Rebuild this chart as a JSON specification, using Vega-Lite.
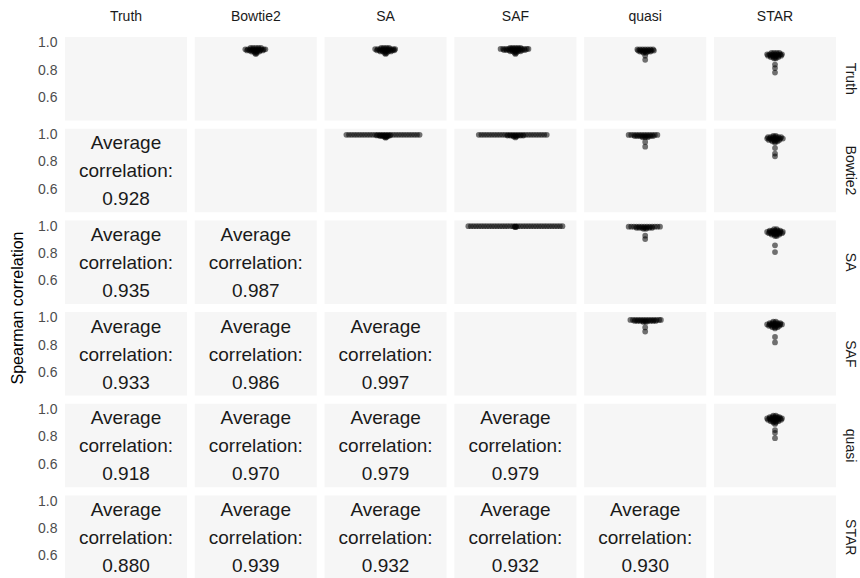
{
"$schema": "https://vega.github.io/schema/vega-lite/v6.json",
"padding": {"left": 9, "top": 10, "right": 4, "bottom": 0},
"data": {"values": [
{"r":"Truth","c":"Bowtie2","x":-6,"y":0.962},{"r":"Truth","c":"Bowtie2","x":-3,"y":0.962},{"r":"Truth","c":"Bowtie2","x":0,"y":0.962},{"r":"Truth","c":"Bowtie2","x":3,"y":0.962},{"r":"Truth","c":"Bowtie2","x":6,"y":0.962},
{"r":"Truth","c":"Bowtie2","x":-12,"y":0.952},{"r":"Truth","c":"Bowtie2","x":-9,"y":0.952},{"r":"Truth","c":"Bowtie2","x":-6,"y":0.952},{"r":"Truth","c":"Bowtie2","x":-3,"y":0.952},{"r":"Truth","c":"Bowtie2","x":0,"y":0.952},{"r":"Truth","c":"Bowtie2","x":3,"y":0.952},{"r":"Truth","c":"Bowtie2","x":6,"y":0.952},{"r":"Truth","c":"Bowtie2","x":9,"y":0.952},{"r":"Truth","c":"Bowtie2","x":11,"y":0.952},
{"r":"Truth","c":"Bowtie2","x":-10,"y":0.944},{"r":"Truth","c":"Bowtie2","x":-7,"y":0.944},{"r":"Truth","c":"Bowtie2","x":-4,"y":0.944},{"r":"Truth","c":"Bowtie2","x":-1,"y":0.944},{"r":"Truth","c":"Bowtie2","x":2,"y":0.944},{"r":"Truth","c":"Bowtie2","x":5,"y":0.944},{"r":"Truth","c":"Bowtie2","x":8,"y":0.944},
{"r":"Truth","c":"Bowtie2","x":-5,"y":0.935},{"r":"Truth","c":"Bowtie2","x":-2,"y":0.935},{"r":"Truth","c":"Bowtie2","x":1,"y":0.935},{"r":"Truth","c":"Bowtie2","x":4,"y":0.935},
{"r":"Truth","c":"Bowtie2","x":-1,"y":0.925},{"r":"Truth","c":"Bowtie2","x":1,"y":0.925},{"r":"Truth","c":"Bowtie2","x":0,"y":0.917},

{"r":"Truth","c":"SA","x":-5,"y":0.962},{"r":"Truth","c":"SA","x":-2,"y":0.962},{"r":"Truth","c":"SA","x":1,"y":0.962},{"r":"Truth","c":"SA","x":4,"y":0.962},
{"r":"Truth","c":"SA","x":-12,"y":0.954},{"r":"Truth","c":"SA","x":-9,"y":0.954},{"r":"Truth","c":"SA","x":-6,"y":0.954},{"r":"Truth","c":"SA","x":-3,"y":0.954},{"r":"Truth","c":"SA","x":0,"y":0.954},{"r":"Truth","c":"SA","x":3,"y":0.954},{"r":"Truth","c":"SA","x":6,"y":0.954},{"r":"Truth","c":"SA","x":9,"y":0.954},{"r":"Truth","c":"SA","x":11,"y":0.954},
{"r":"Truth","c":"SA","x":-10,"y":0.945},{"r":"Truth","c":"SA","x":-7,"y":0.945},{"r":"Truth","c":"SA","x":-4,"y":0.945},{"r":"Truth","c":"SA","x":-1,"y":0.945},{"r":"Truth","c":"SA","x":2,"y":0.945},{"r":"Truth","c":"SA","x":5,"y":0.945},{"r":"Truth","c":"SA","x":8,"y":0.945},{"r":"Truth","c":"SA","x":10,"y":0.945},
{"r":"Truth","c":"SA","x":-6,"y":0.936},{"r":"Truth","c":"SA","x":-3,"y":0.936},{"r":"Truth","c":"SA","x":0,"y":0.936},{"r":"Truth","c":"SA","x":3,"y":0.936},{"r":"Truth","c":"SA","x":6,"y":0.936},
{"r":"Truth","c":"SA","x":-1,"y":0.925},{"r":"Truth","c":"SA","x":1,"y":0.925},{"r":"Truth","c":"SA","x":0,"y":0.918},

{"r":"Truth","c":"SAF","x":-6,"y":0.963},{"r":"Truth","c":"SAF","x":-3,"y":0.963},{"r":"Truth","c":"SAF","x":0,"y":0.963},{"r":"Truth","c":"SAF","x":3,"y":0.963},{"r":"Truth","c":"SAF","x":6,"y":0.963},
{"r":"Truth","c":"SAF","x":-17,"y":0.955},{"r":"Truth","c":"SAF","x":-14,"y":0.955},{"r":"Truth","c":"SAF","x":-11,"y":0.955},{"r":"Truth","c":"SAF","x":-8,"y":0.955},{"r":"Truth","c":"SAF","x":-5,"y":0.955},{"r":"Truth","c":"SAF","x":-2,"y":0.955},{"r":"Truth","c":"SAF","x":1,"y":0.955},{"r":"Truth","c":"SAF","x":4,"y":0.955},{"r":"Truth","c":"SAF","x":7,"y":0.955},{"r":"Truth","c":"SAF","x":10,"y":0.955},{"r":"Truth","c":"SAF","x":13,"y":0.955},{"r":"Truth","c":"SAF","x":15,"y":0.955},
{"r":"Truth","c":"SAF","x":-13,"y":0.946},{"r":"Truth","c":"SAF","x":-10,"y":0.946},{"r":"Truth","c":"SAF","x":-7,"y":0.946},{"r":"Truth","c":"SAF","x":-4,"y":0.946},{"r":"Truth","c":"SAF","x":-1,"y":0.946},{"r":"Truth","c":"SAF","x":2,"y":0.946},{"r":"Truth","c":"SAF","x":5,"y":0.946},{"r":"Truth","c":"SAF","x":8,"y":0.946},{"r":"Truth","c":"SAF","x":11,"y":0.946},
{"r":"Truth","c":"SAF","x":-6,"y":0.937},{"r":"Truth","c":"SAF","x":-3,"y":0.937},{"r":"Truth","c":"SAF","x":0,"y":0.937},{"r":"Truth","c":"SAF","x":3,"y":0.937},{"r":"Truth","c":"SAF","x":6,"y":0.937},
{"r":"Truth","c":"SAF","x":-1,"y":0.926},{"r":"Truth","c":"SAF","x":1,"y":0.926},{"r":"Truth","c":"SAF","x":0,"y":0.918},

{"r":"Truth","c":"quasi","x":-9,"y":0.951},{"r":"Truth","c":"quasi","x":-6,"y":0.951},{"r":"Truth","c":"quasi","x":-3,"y":0.951},{"r":"Truth","c":"quasi","x":0,"y":0.951},{"r":"Truth","c":"quasi","x":3,"y":0.951},{"r":"Truth","c":"quasi","x":6,"y":0.951},{"r":"Truth","c":"quasi","x":9,"y":0.951},
{"r":"Truth","c":"quasi","x":-8,"y":0.943},{"r":"Truth","c":"quasi","x":-5,"y":0.943},{"r":"Truth","c":"quasi","x":-2,"y":0.943},{"r":"Truth","c":"quasi","x":1,"y":0.943},{"r":"Truth","c":"quasi","x":4,"y":0.943},{"r":"Truth","c":"quasi","x":7,"y":0.943},{"r":"Truth","c":"quasi","x":10,"y":0.943},
{"r":"Truth","c":"quasi","x":-6,"y":0.935},{"r":"Truth","c":"quasi","x":-3,"y":0.935},{"r":"Truth","c":"quasi","x":0,"y":0.935},{"r":"Truth","c":"quasi","x":3,"y":0.935},{"r":"Truth","c":"quasi","x":6,"y":0.935},
{"r":"Truth","c":"quasi","x":-2,"y":0.927},{"r":"Truth","c":"quasi","x":1,"y":0.927},{"r":"Truth","c":"quasi","x":0,"y":0.905},{"r":"Truth","c":"quasi","x":0,"y":0.875},

{"r":"Truth","c":"STAR","x":-4,"y":0.925},{"r":"Truth","c":"STAR","x":-1,"y":0.925},{"r":"Truth","c":"STAR","x":2,"y":0.925},{"r":"Truth","c":"STAR","x":5,"y":0.925},
{"r":"Truth","c":"STAR","x":-9,"y":0.915},{"r":"Truth","c":"STAR","x":-6,"y":0.915},{"r":"Truth","c":"STAR","x":-3,"y":0.915},{"r":"Truth","c":"STAR","x":0,"y":0.915},{"r":"Truth","c":"STAR","x":3,"y":0.915},{"r":"Truth","c":"STAR","x":6,"y":0.915},{"r":"Truth","c":"STAR","x":8,"y":0.915},
{"r":"Truth","c":"STAR","x":-8,"y":0.905},{"r":"Truth","c":"STAR","x":-5,"y":0.905},{"r":"Truth","c":"STAR","x":-2,"y":0.905},{"r":"Truth","c":"STAR","x":1,"y":0.905},{"r":"Truth","c":"STAR","x":4,"y":0.905},{"r":"Truth","c":"STAR","x":7,"y":0.905},
{"r":"Truth","c":"STAR","x":-5,"y":0.895},{"r":"Truth","c":"STAR","x":-2,"y":0.895},{"r":"Truth","c":"STAR","x":1,"y":0.895},{"r":"Truth","c":"STAR","x":4,"y":0.895},
{"r":"Truth","c":"STAR","x":-1,"y":0.885},{"r":"Truth","c":"STAR","x":1,"y":0.885},{"r":"Truth","c":"STAR","x":0,"y":0.84},{"r":"Truth","c":"STAR","x":0,"y":0.815},{"r":"Truth","c":"STAR","x":0,"y":0.782},

{"r":"Bowtie2","c":"SA","x":-45,"y":0.997},{"r":"Bowtie2","c":"SA","x":-42,"y":0.997},{"r":"Bowtie2","c":"SA","x":-39,"y":0.997},{"r":"Bowtie2","c":"SA","x":-36,"y":0.997},{"r":"Bowtie2","c":"SA","x":-33,"y":0.997},{"r":"Bowtie2","c":"SA","x":-30,"y":0.997},{"r":"Bowtie2","c":"SA","x":-27,"y":0.997},{"r":"Bowtie2","c":"SA","x":-24,"y":0.997},{"r":"Bowtie2","c":"SA","x":-21,"y":0.997},{"r":"Bowtie2","c":"SA","x":-18,"y":0.997},{"r":"Bowtie2","c":"SA","x":-15,"y":0.997},{"r":"Bowtie2","c":"SA","x":-12,"y":0.997},{"r":"Bowtie2","c":"SA","x":-9,"y":0.997},{"r":"Bowtie2","c":"SA","x":-6,"y":0.997},{"r":"Bowtie2","c":"SA","x":-3,"y":0.997},{"r":"Bowtie2","c":"SA","x":0,"y":0.997},{"r":"Bowtie2","c":"SA","x":3,"y":0.997},{"r":"Bowtie2","c":"SA","x":6,"y":0.997},{"r":"Bowtie2","c":"SA","x":9,"y":0.997},{"r":"Bowtie2","c":"SA","x":12,"y":0.997},{"r":"Bowtie2","c":"SA","x":15,"y":0.997},{"r":"Bowtie2","c":"SA","x":18,"y":0.997},{"r":"Bowtie2","c":"SA","x":21,"y":0.997},{"r":"Bowtie2","c":"SA","x":24,"y":0.997},{"r":"Bowtie2","c":"SA","x":27,"y":0.997},{"r":"Bowtie2","c":"SA","x":30,"y":0.997},{"r":"Bowtie2","c":"SA","x":33,"y":0.997},{"r":"Bowtie2","c":"SA","x":36,"y":0.997},{"r":"Bowtie2","c":"SA","x":39,"y":0.997},
{"r":"Bowtie2","c":"SA","x":-10,"y":0.993},{"r":"Bowtie2","c":"SA","x":-7,"y":0.993},{"r":"Bowtie2","c":"SA","x":-4,"y":0.993},{"r":"Bowtie2","c":"SA","x":-1,"y":0.993},{"r":"Bowtie2","c":"SA","x":2,"y":0.993},{"r":"Bowtie2","c":"SA","x":5,"y":0.993},
{"r":"Bowtie2","c":"SA","x":-6,"y":0.988},{"r":"Bowtie2","c":"SA","x":-3,"y":0.988},{"r":"Bowtie2","c":"SA","x":0,"y":0.988},{"r":"Bowtie2","c":"SA","x":3,"y":0.988},
{"r":"Bowtie2","c":"SA","x":-1,"y":0.982},{"r":"Bowtie2","c":"SA","x":1,"y":0.982},{"r":"Bowtie2","c":"SA","x":0,"y":0.976},

{"r":"Bowtie2","c":"SAF","x":-42,"y":0.997},{"r":"Bowtie2","c":"SAF","x":-39,"y":0.997},{"r":"Bowtie2","c":"SAF","x":-36,"y":0.997},{"r":"Bowtie2","c":"SAF","x":-33,"y":0.997},{"r":"Bowtie2","c":"SAF","x":-30,"y":0.997},{"r":"Bowtie2","c":"SAF","x":-27,"y":0.997},{"r":"Bowtie2","c":"SAF","x":-24,"y":0.997},{"r":"Bowtie2","c":"SAF","x":-21,"y":0.997},{"r":"Bowtie2","c":"SAF","x":-18,"y":0.997},{"r":"Bowtie2","c":"SAF","x":-15,"y":0.997},{"r":"Bowtie2","c":"SAF","x":-12,"y":0.997},{"r":"Bowtie2","c":"SAF","x":-9,"y":0.997},{"r":"Bowtie2","c":"SAF","x":-6,"y":0.997},{"r":"Bowtie2","c":"SAF","x":-3,"y":0.997},{"r":"Bowtie2","c":"SAF","x":0,"y":0.997},{"r":"Bowtie2","c":"SAF","x":3,"y":0.997},{"r":"Bowtie2","c":"SAF","x":6,"y":0.997},{"r":"Bowtie2","c":"SAF","x":9,"y":0.997},{"r":"Bowtie2","c":"SAF","x":12,"y":0.997},{"r":"Bowtie2","c":"SAF","x":15,"y":0.997},{"r":"Bowtie2","c":"SAF","x":18,"y":0.997},{"r":"Bowtie2","c":"SAF","x":21,"y":0.997},{"r":"Bowtie2","c":"SAF","x":24,"y":0.997},{"r":"Bowtie2","c":"SAF","x":27,"y":0.997},{"r":"Bowtie2","c":"SAF","x":30,"y":0.997},{"r":"Bowtie2","c":"SAF","x":33,"y":0.997},{"r":"Bowtie2","c":"SAF","x":36,"y":0.997},
{"r":"Bowtie2","c":"SAF","x":-9,"y":0.992},{"r":"Bowtie2","c":"SAF","x":-6,"y":0.992},{"r":"Bowtie2","c":"SAF","x":-3,"y":0.992},{"r":"Bowtie2","c":"SAF","x":0,"y":0.992},{"r":"Bowtie2","c":"SAF","x":3,"y":0.992},{"r":"Bowtie2","c":"SAF","x":6,"y":0.992},{"r":"Bowtie2","c":"SAF","x":9,"y":0.992},
{"r":"Bowtie2","c":"SAF","x":-2,"y":0.985},{"r":"Bowtie2","c":"SAF","x":1,"y":0.985},{"r":"Bowtie2","c":"SAF","x":0,"y":0.978},

{"r":"Bowtie2","c":"quasi","x":-19,"y":0.996},{"r":"Bowtie2","c":"quasi","x":-16,"y":0.996},{"r":"Bowtie2","c":"quasi","x":-13,"y":0.996},{"r":"Bowtie2","c":"quasi","x":-10,"y":0.996},{"r":"Bowtie2","c":"quasi","x":-7,"y":0.996},{"r":"Bowtie2","c":"quasi","x":-4,"y":0.996},{"r":"Bowtie2","c":"quasi","x":-1,"y":0.996},{"r":"Bowtie2","c":"quasi","x":2,"y":0.996},{"r":"Bowtie2","c":"quasi","x":5,"y":0.996},{"r":"Bowtie2","c":"quasi","x":8,"y":0.996},{"r":"Bowtie2","c":"quasi","x":11,"y":0.996},{"r":"Bowtie2","c":"quasi","x":14,"y":0.996},
{"r":"Bowtie2","c":"quasi","x":-12,"y":0.988},{"r":"Bowtie2","c":"quasi","x":-9,"y":0.988},{"r":"Bowtie2","c":"quasi","x":-6,"y":0.988},{"r":"Bowtie2","c":"quasi","x":-3,"y":0.988},{"r":"Bowtie2","c":"quasi","x":0,"y":0.988},{"r":"Bowtie2","c":"quasi","x":3,"y":0.988},{"r":"Bowtie2","c":"quasi","x":6,"y":0.988},{"r":"Bowtie2","c":"quasi","x":9,"y":0.988},
{"r":"Bowtie2","c":"quasi","x":-3,"y":0.98},{"r":"Bowtie2","c":"quasi","x":0,"y":0.98},{"r":"Bowtie2","c":"quasi","x":3,"y":0.98},{"r":"Bowtie2","c":"quasi","x":0,"y":0.945},{"r":"Bowtie2","c":"quasi","x":0,"y":0.91},

{"r":"Bowtie2","c":"STAR","x":-2,"y":0.99},{"r":"Bowtie2","c":"STAR","x":1,"y":0.99},
{"r":"Bowtie2","c":"STAR","x":-8,"y":0.98},{"r":"Bowtie2","c":"STAR","x":-5,"y":0.98},{"r":"Bowtie2","c":"STAR","x":-2,"y":0.98},{"r":"Bowtie2","c":"STAR","x":1,"y":0.98},{"r":"Bowtie2","c":"STAR","x":4,"y":0.98},{"r":"Bowtie2","c":"STAR","x":7,"y":0.98},
{"r":"Bowtie2","c":"STAR","x":-9,"y":0.97},{"r":"Bowtie2","c":"STAR","x":-6,"y":0.97},{"r":"Bowtie2","c":"STAR","x":-3,"y":0.97},{"r":"Bowtie2","c":"STAR","x":0,"y":0.97},{"r":"Bowtie2","c":"STAR","x":3,"y":0.97},{"r":"Bowtie2","c":"STAR","x":6,"y":0.97},{"r":"Bowtie2","c":"STAR","x":9,"y":0.97},
{"r":"Bowtie2","c":"STAR","x":-7,"y":0.96},{"r":"Bowtie2","c":"STAR","x":-4,"y":0.96},{"r":"Bowtie2","c":"STAR","x":-1,"y":0.96},{"r":"Bowtie2","c":"STAR","x":2,"y":0.96},{"r":"Bowtie2","c":"STAR","x":5,"y":0.96},
{"r":"Bowtie2","c":"STAR","x":-3,"y":0.95},{"r":"Bowtie2","c":"STAR","x":0,"y":0.95},{"r":"Bowtie2","c":"STAR","x":3,"y":0.95},
{"r":"Bowtie2","c":"STAR","x":0,"y":0.94},{"r":"Bowtie2","c":"STAR","x":0,"y":0.9},{"r":"Bowtie2","c":"STAR","x":0,"y":0.86},{"r":"Bowtie2","c":"STAR","x":0,"y":0.84},

{"r":"SA","c":"SAF","x":-54,"y":0.9995},{"r":"SA","c":"SAF","x":-51,"y":0.9995},{"r":"SA","c":"SAF","x":-48,"y":0.9995},{"r":"SA","c":"SAF","x":-45,"y":0.9995},{"r":"SA","c":"SAF","x":-42,"y":0.9995},{"r":"SA","c":"SAF","x":-39,"y":0.9995},{"r":"SA","c":"SAF","x":-36,"y":0.9995},{"r":"SA","c":"SAF","x":-33,"y":0.9995},{"r":"SA","c":"SAF","x":-30,"y":0.9995},{"r":"SA","c":"SAF","x":-27,"y":0.9995},{"r":"SA","c":"SAF","x":-24,"y":0.9995},{"r":"SA","c":"SAF","x":-21,"y":0.9995},{"r":"SA","c":"SAF","x":-18,"y":0.9995},{"r":"SA","c":"SAF","x":-15,"y":0.9995},{"r":"SA","c":"SAF","x":-12,"y":0.9995},{"r":"SA","c":"SAF","x":-9,"y":0.9995},{"r":"SA","c":"SAF","x":-6,"y":0.9995},{"r":"SA","c":"SAF","x":-3,"y":0.9995},{"r":"SA","c":"SAF","x":0,"y":0.9995},{"r":"SA","c":"SAF","x":3,"y":0.9995},{"r":"SA","c":"SAF","x":6,"y":0.9995},{"r":"SA","c":"SAF","x":9,"y":0.9995},{"r":"SA","c":"SAF","x":12,"y":0.9995},{"r":"SA","c":"SAF","x":15,"y":0.9995},{"r":"SA","c":"SAF","x":18,"y":0.9995},{"r":"SA","c":"SAF","x":21,"y":0.9995},{"r":"SA","c":"SAF","x":24,"y":0.9995},{"r":"SA","c":"SAF","x":27,"y":0.9995},{"r":"SA","c":"SAF","x":30,"y":0.9995},{"r":"SA","c":"SAF","x":33,"y":0.9995},{"r":"SA","c":"SAF","x":36,"y":0.9995},{"r":"SA","c":"SAF","x":39,"y":0.9995},{"r":"SA","c":"SAF","x":42,"y":0.9995},{"r":"SA","c":"SAF","x":45,"y":0.9995},{"r":"SA","c":"SAF","x":48,"y":0.9995},{"r":"SA","c":"SAF","x":51,"y":0.9995},{"r":"SA","c":"SAF","x":54,"y":0.9995},
{"r":"SA","c":"SAF","x":-1,"y":0.996},{"r":"SA","c":"SAF","x":1,"y":0.996},{"r":"SA","c":"SAF","x":0,"y":0.992},

{"r":"SA","c":"quasi","x":-19,"y":0.996},{"r":"SA","c":"quasi","x":-16,"y":0.996},{"r":"SA","c":"quasi","x":-13,"y":0.996},{"r":"SA","c":"quasi","x":-10,"y":0.996},{"r":"SA","c":"quasi","x":-7,"y":0.996},{"r":"SA","c":"quasi","x":-4,"y":0.996},{"r":"SA","c":"quasi","x":-1,"y":0.996},{"r":"SA","c":"quasi","x":2,"y":0.996},{"r":"SA","c":"quasi","x":5,"y":0.996},{"r":"SA","c":"quasi","x":8,"y":0.996},{"r":"SA","c":"quasi","x":11,"y":0.996},{"r":"SA","c":"quasi","x":14,"y":0.996},{"r":"SA","c":"quasi","x":17,"y":0.996},
{"r":"SA","c":"quasi","x":-10,"y":0.988},{"r":"SA","c":"quasi","x":-7,"y":0.988},{"r":"SA","c":"quasi","x":-4,"y":0.988},{"r":"SA","c":"quasi","x":-1,"y":0.988},{"r":"SA","c":"quasi","x":2,"y":0.988},{"r":"SA","c":"quasi","x":5,"y":0.988},{"r":"SA","c":"quasi","x":8,"y":0.988},
{"r":"SA","c":"quasi","x":-2,"y":0.98},{"r":"SA","c":"quasi","x":1,"y":0.98},{"r":"SA","c":"quasi","x":0,"y":0.93},{"r":"SA","c":"quasi","x":0,"y":0.905},

{"r":"SA","c":"STAR","x":-1,"y":0.978},{"r":"SA","c":"STAR","x":2,"y":0.978},
{"r":"SA","c":"STAR","x":-6,"y":0.968},{"r":"SA","c":"STAR","x":-3,"y":0.968},{"r":"SA","c":"STAR","x":0,"y":0.968},{"r":"SA","c":"STAR","x":3,"y":0.968},{"r":"SA","c":"STAR","x":6,"y":0.968},
{"r":"SA","c":"STAR","x":-9,"y":0.958},{"r":"SA","c":"STAR","x":-6,"y":0.958},{"r":"SA","c":"STAR","x":-3,"y":0.958},{"r":"SA","c":"STAR","x":0,"y":0.958},{"r":"SA","c":"STAR","x":3,"y":0.958},{"r":"SA","c":"STAR","x":6,"y":0.958},{"r":"SA","c":"STAR","x":9,"y":0.958},
{"r":"SA","c":"STAR","x":-7,"y":0.948},{"r":"SA","c":"STAR","x":-4,"y":0.948},{"r":"SA","c":"STAR","x":-1,"y":0.948},{"r":"SA","c":"STAR","x":2,"y":0.948},{"r":"SA","c":"STAR","x":5,"y":0.948},{"r":"SA","c":"STAR","x":8,"y":0.948},
{"r":"SA","c":"STAR","x":-4,"y":0.938},{"r":"SA","c":"STAR","x":-1,"y":0.938},{"r":"SA","c":"STAR","x":2,"y":0.938},{"r":"SA","c":"STAR","x":5,"y":0.938},
{"r":"SA","c":"STAR","x":0,"y":0.928},{"r":"SA","c":"STAR","x":2,"y":0.928},{"r":"SA","c":"STAR","x":0,"y":0.86},{"r":"SA","c":"STAR","x":0,"y":0.81},

{"r":"SAF","c":"quasi","x":-17,"y":0.985},{"r":"SAF","c":"quasi","x":-14,"y":0.985},{"r":"SAF","c":"quasi","x":-11,"y":0.985},{"r":"SAF","c":"quasi","x":-8,"y":0.985},{"r":"SAF","c":"quasi","x":-5,"y":0.985},{"r":"SAF","c":"quasi","x":-2,"y":0.985},{"r":"SAF","c":"quasi","x":1,"y":0.985},{"r":"SAF","c":"quasi","x":4,"y":0.985},{"r":"SAF","c":"quasi","x":7,"y":0.985},{"r":"SAF","c":"quasi","x":10,"y":0.985},{"r":"SAF","c":"quasi","x":13,"y":0.985},{"r":"SAF","c":"quasi","x":16,"y":0.985},{"r":"SAF","c":"quasi","x":18,"y":0.985},
{"r":"SAF","c":"quasi","x":-12,"y":0.977},{"r":"SAF","c":"quasi","x":-9,"y":0.977},{"r":"SAF","c":"quasi","x":-6,"y":0.977},{"r":"SAF","c":"quasi","x":-3,"y":0.977},{"r":"SAF","c":"quasi","x":0,"y":0.977},{"r":"SAF","c":"quasi","x":3,"y":0.977},{"r":"SAF","c":"quasi","x":6,"y":0.977},{"r":"SAF","c":"quasi","x":9,"y":0.977},{"r":"SAF","c":"quasi","x":12,"y":0.977},
{"r":"SAF","c":"quasi","x":-2,"y":0.97},{"r":"SAF","c":"quasi","x":1,"y":0.97},{"r":"SAF","c":"quasi","x":0,"y":0.93},{"r":"SAF","c":"quasi","x":0,"y":0.9},

{"r":"SAF","c":"STAR","x":-2,"y":0.972},{"r":"SAF","c":"STAR","x":1,"y":0.972},
{"r":"SAF","c":"STAR","x":-6,"y":0.962},{"r":"SAF","c":"STAR","x":-3,"y":0.962},{"r":"SAF","c":"STAR","x":0,"y":0.962},{"r":"SAF","c":"STAR","x":3,"y":0.962},{"r":"SAF","c":"STAR","x":6,"y":0.962},
{"r":"SAF","c":"STAR","x":-9,"y":0.952},{"r":"SAF","c":"STAR","x":-6,"y":0.952},{"r":"SAF","c":"STAR","x":-3,"y":0.952},{"r":"SAF","c":"STAR","x":0,"y":0.952},{"r":"SAF","c":"STAR","x":3,"y":0.952},{"r":"SAF","c":"STAR","x":6,"y":0.952},{"r":"SAF","c":"STAR","x":8,"y":0.952},
{"r":"SAF","c":"STAR","x":-7,"y":0.942},{"r":"SAF","c":"STAR","x":-4,"y":0.942},{"r":"SAF","c":"STAR","x":-1,"y":0.942},{"r":"SAF","c":"STAR","x":2,"y":0.942},{"r":"SAF","c":"STAR","x":5,"y":0.942},
{"r":"SAF","c":"STAR","x":-3,"y":0.932},{"r":"SAF","c":"STAR","x":0,"y":0.932},{"r":"SAF","c":"STAR","x":3,"y":0.932},
{"r":"SAF","c":"STAR","x":0,"y":0.922},{"r":"SAF","c":"STAR","x":0,"y":0.86},{"r":"SAF","c":"STAR","x":0,"y":0.82},

{"r":"quasi","c":"STAR","x":-2,"y":0.955},{"r":"quasi","c":"STAR","x":1,"y":0.955},
{"r":"quasi","c":"STAR","x":-6,"y":0.945},{"r":"quasi","c":"STAR","x":-3,"y":0.945},{"r":"quasi","c":"STAR","x":0,"y":0.945},{"r":"quasi","c":"STAR","x":3,"y":0.945},{"r":"quasi","c":"STAR","x":5,"y":0.945},
{"r":"quasi","c":"STAR","x":-9,"y":0.935},{"r":"quasi","c":"STAR","x":-6,"y":0.935},{"r":"quasi","c":"STAR","x":-3,"y":0.935},{"r":"quasi","c":"STAR","x":0,"y":0.935},{"r":"quasi","c":"STAR","x":3,"y":0.935},{"r":"quasi","c":"STAR","x":6,"y":0.935},{"r":"quasi","c":"STAR","x":8,"y":0.935},
{"r":"quasi","c":"STAR","x":-8,"y":0.925},{"r":"quasi","c":"STAR","x":-5,"y":0.925},{"r":"quasi","c":"STAR","x":-2,"y":0.925},{"r":"quasi","c":"STAR","x":1,"y":0.925},{"r":"quasi","c":"STAR","x":4,"y":0.925},{"r":"quasi","c":"STAR","x":7,"y":0.925},
{"r":"quasi","c":"STAR","x":-5,"y":0.915},{"r":"quasi","c":"STAR","x":-2,"y":0.915},{"r":"quasi","c":"STAR","x":1,"y":0.915},{"r":"quasi","c":"STAR","x":4,"y":0.915},
{"r":"quasi","c":"STAR","x":-2,"y":0.905},{"r":"quasi","c":"STAR","x":1,"y":0.905},{"r":"quasi","c":"STAR","x":0,"y":0.895},{"r":"quasi","c":"STAR","x":0,"y":0.85},{"r":"quasi","c":"STAR","x":0,"y":0.83},{"r":"quasi","c":"STAR","x":0,"y":0.79},

{"r":"Bowtie2","c":"Truth","avg":0.928},
{"r":"SA","c":"Truth","avg":0.935},{"r":"SA","c":"Bowtie2","avg":0.987},
{"r":"SAF","c":"Truth","avg":0.933},{"r":"SAF","c":"Bowtie2","avg":0.986},{"r":"SAF","c":"SA","avg":0.997},
{"r":"quasi","c":"Truth","avg":0.918},{"r":"quasi","c":"Bowtie2","avg":0.970},{"r":"quasi","c":"SA","avg":0.979},{"r":"quasi","c":"SAF","avg":0.979},
{"r":"STAR","c":"Truth","avg":0.880},{"r":"STAR","c":"Bowtie2","avg":0.939},{"r":"STAR","c":"SA","avg":0.932},{"r":"STAR","c":"SAF","avg":0.932},{"r":"STAR","c":"quasi","avg":0.930},
{"r":"Truth","c":"Truth"},{"r":"Bowtie2","c":"Bowtie2"},{"r":"SA","c":"SA"},{"r":"SAF","c":"SAF"},{"r":"quasi","c":"quasi"},{"r":"STAR","c":"STAR"}
]},
"facet": {
  "row": {"field": "r", "type": "nominal", "sort": ["Truth","Bowtie2","SA","SAF","quasi","STAR"],
    "header": {"title": "Spearman correlation", "titleOrient": "left", "titleAngle": -90, "titleFontSize": 16, "titleFontWeight": "normal", "titleColor": "black", "titleFont": "Liberation Sans", "titlePadding": -15,
      "labelOrient": "right", "labelAngle": 90, "labelFontSize": 14, "labelColor": "#1a1a1a", "labelFont": "Liberation Sans", "labelPadding": 7}},
  "column": {"field": "c", "type": "nominal", "sort": ["Truth","Bowtie2","SA","SAF","quasi","STAR"],
    "header": {"title": null, "labelOrient": "top", "labelFontSize": 14, "labelColor": "#1a1a1a", "labelFont": "Liberation Sans", "labelPadding": 13}}
},
"spacing": {"row": 7.7, "column": 7.8},
"spec": {
  "width": 122,
  "height": 83.5,
  "layer": [
    {"transform": [{"filter": "isValid(datum.y)"}],
     "mark": {"type": "circle", "size": 33, "color": "black", "opacity": 0.55},
     "encoding": {
       "x": {"field": "x", "type": "quantitative", "scale": {"domain": [-61, 61]}, "axis": null},
       "y": {"field": "y", "type": "quantitative", "scale": {"domain": [0.431, 1.042], "nice": false, "zero": false}, "title": null,
         "axis": {"values": [0.6, 0.8, 1.0], "format": ".1f", "domain": false, "ticks": false, "grid": false, "labelFontSize": 14, "labelColor": "#4d4d4d", "labelPadding": 8}}
     }},
    {"transform": [{"filter": "isValid(datum.avg)"}],
     "mark": {"type": "text", "fontSize": 19, "color": "#1a1a1a", "baseline": "middle", "align": "center"},
     "encoding": {"x": {"datum": 0, "type": "quantitative"}, "y": {"datum": 0.935, "type": "quantitative"}, "text": {"value": "Average"}}},
    {"transform": [{"filter": "isValid(datum.avg)"}],
     "mark": {"type": "text", "fontSize": 19, "color": "#1a1a1a", "baseline": "middle", "align": "center"},
     "encoding": {"x": {"datum": 0, "type": "quantitative"}, "y": {"datum": 0.73, "type": "quantitative"}, "text": {"value": "correlation:"}}},
    {"transform": [{"filter": "isValid(datum.avg)"}],
     "mark": {"type": "text", "fontSize": 19, "color": "#1a1a1a", "baseline": "middle", "align": "center"},
     "encoding": {"x": {"datum": 0, "type": "quantitative"}, "y": {"datum": 0.525, "type": "quantitative"}, "text": {"field": "avg", "type": "quantitative", "format": ".3f"}}}
  ]
},
"config": {
  "font": "Liberation Sans",
  "view": {"fill": "#f6f6f6", "stroke": null},
  "axis": {"labelFont": "Liberation Sans", "titleFont": "Liberation Sans"}
}
}
